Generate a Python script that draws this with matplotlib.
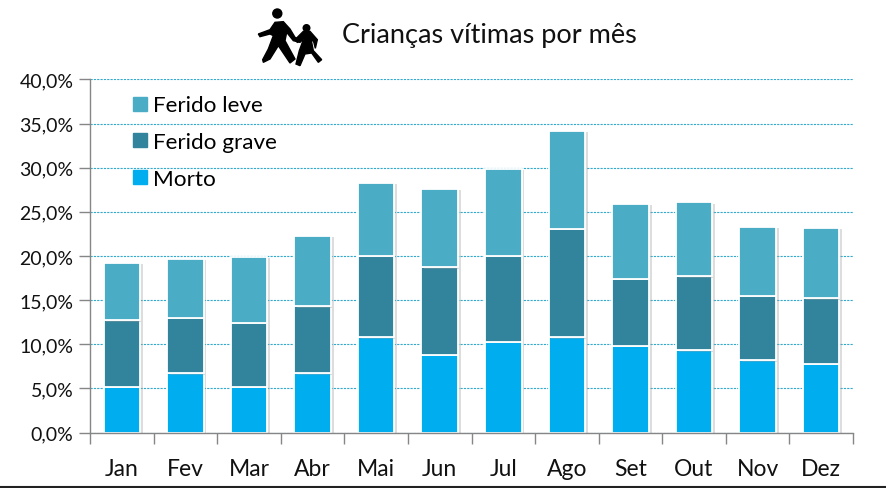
import numpy as np
import matplotlib
matplotlib.use("Agg")
import matplotlib.pyplot as plt
import matplotlib.patheffects as pe
from matplotlib.patches import Polygon, Circle
from matplotlib.lines import Line2D

plt.rcParams['font.family'] = ['Lato', 'DejaVu Sans']

meses = ['Jan','Fev','Mar','Abr','Mai','Jun','Jul','Ago','Set','Out','Nov','Dez']
morto = [5.2,6.7,5.2,6.7,10.8,8.8,10.3,10.8,9.8,9.3,8.2,7.8]
grave = [7.5,6.3,7.2,7.6,9.2,9.9,9.7,12.3,7.6,8.4,7.3,7.4]
leve  = [6.5,6.7,7.5,8.0,8.3,8.9,9.9,11.1,8.5,8.4,7.8,8.0]
yticks = [0,5,10,15,20,25,30,35,40]
titulo = 'Crianças vítimas por mês'
cores = {'Morto':'#00AEEF','Ferido grave':'#31849B','Ferido leve':'#4BACC6'}

W,H = 886,489
fig = plt.figure(figsize=(W/100,H/100),dpi=100,facecolor='white')
ax = fig.add_axes([90/W,1-433.6/H,763/W,353.2/H])
x = np.arange(len(meses))
shadow = [pe.SimplePatchShadow(offset=(2,-1),shadow_rgbFace='#a0a0a0',alpha=0.35),pe.Normal()]
ax.set_axisbelow(True)
ax.yaxis.grid(True,color='#35A9CC',linestyle=(0,(2,1)),linewidth=0.8)
bottom = np.zeros(len(meses))
for nome,vals in [('Morto',morto),('Ferido grave',grave),('Ferido leve',leve)]:
    ax.bar(x,vals,0.575,bottom=bottom,color=cores[nome],edgecolor='white',linewidth=1.3,
           path_effects=shadow,zorder=2)
    bottom += np.array(vals)
ax.set_xlim(-0.5,11.5)
ax.set_ylim(0,40)
ax.set_yticks(yticks)
ax.set_yticklabels([f'{v:.1f}%'.replace('.',',') for v in yticks],fontsize=14,color='#111111')
ax.set_xticks(np.arange(-0.5,12,1))
ax.set_xticklabels([])
ax.set_xticks(x,minor=True)
ax.set_xticklabels(meses,minor=True,fontsize=16.5,color='#111111')
ax.tick_params(axis='x',which='major',length=8,color='#868686',width=1)
ax.tick_params(axis='x',which='minor',length=0,pad=18)
ax.tick_params(axis='y',length=8,color='#868686',width=1,pad=4)
for s in ['top','right']:
    ax.spines[s].set_visible(False)
for s in ['left','bottom']:
    ax.spines[s].set_color('#868686')
    ax.spines[s].set_linewidth(1)

handles = [Line2D([],[],linestyle='none',marker='s',markersize=10,color=cores[n]) for n in ['Ferido leve','Ferido grave','Morto']]
leg = ax.legend(handles,['Ferido leve','Ferido grave','Morto'],loc='upper left',
          bbox_to_anchor=(39/763,1-16/353),frameon=False,fontsize=16.2,labelspacing=0.75,
          handletextpad=0.05,borderpad=0,borderaxespad=0,handlelength=1.0)

fig.text(342/W,1-35/H,titulo,fontsize=19.5,va='center',ha='left',color='#111111')

# pictograma (adulto e criança de mãos dadas), em pixels da figura
ic = fig.add_axes([0,0,1,1],facecolor='none')
ic.set_xlim(0,W); ic.set_ylim(H,0); ic.axis('off')
def px(pts):
    return [(240+a/3,b/3) for a,b in pts]
ic.add_patch(Circle((277.3,14.5),4.5,color='k'))
ic.add_patch(Circle((306.5,29),3.3,color='k'))
ic.add_patch(Polygon(px([(55,105),(90,92),(105,70),(130,68),(150,90),(165,115),(185,125),(180,130),(160,125),(140,100),(135,125),(165,180),(150,192),(115,140),(90,180),(70,190),(68,182),(85,150),(100,110),(90,105),(60,113)]),color='k'))
ic.add_patch(Polygon(px([(190,97),(210,97),(232,122),(226,148),(221,128),(213,120),(220,155),(245,182),(235,190),(215,162),(195,165),(180,200),(168,195),(178,155),(190,122),(172,130),(165,122)]),color='k'))

ic.plot([0,W],[487.5,487.5],color='#222222',lw=1.5,clip_on=False)
fig.savefig('out.png',dpi=100)
